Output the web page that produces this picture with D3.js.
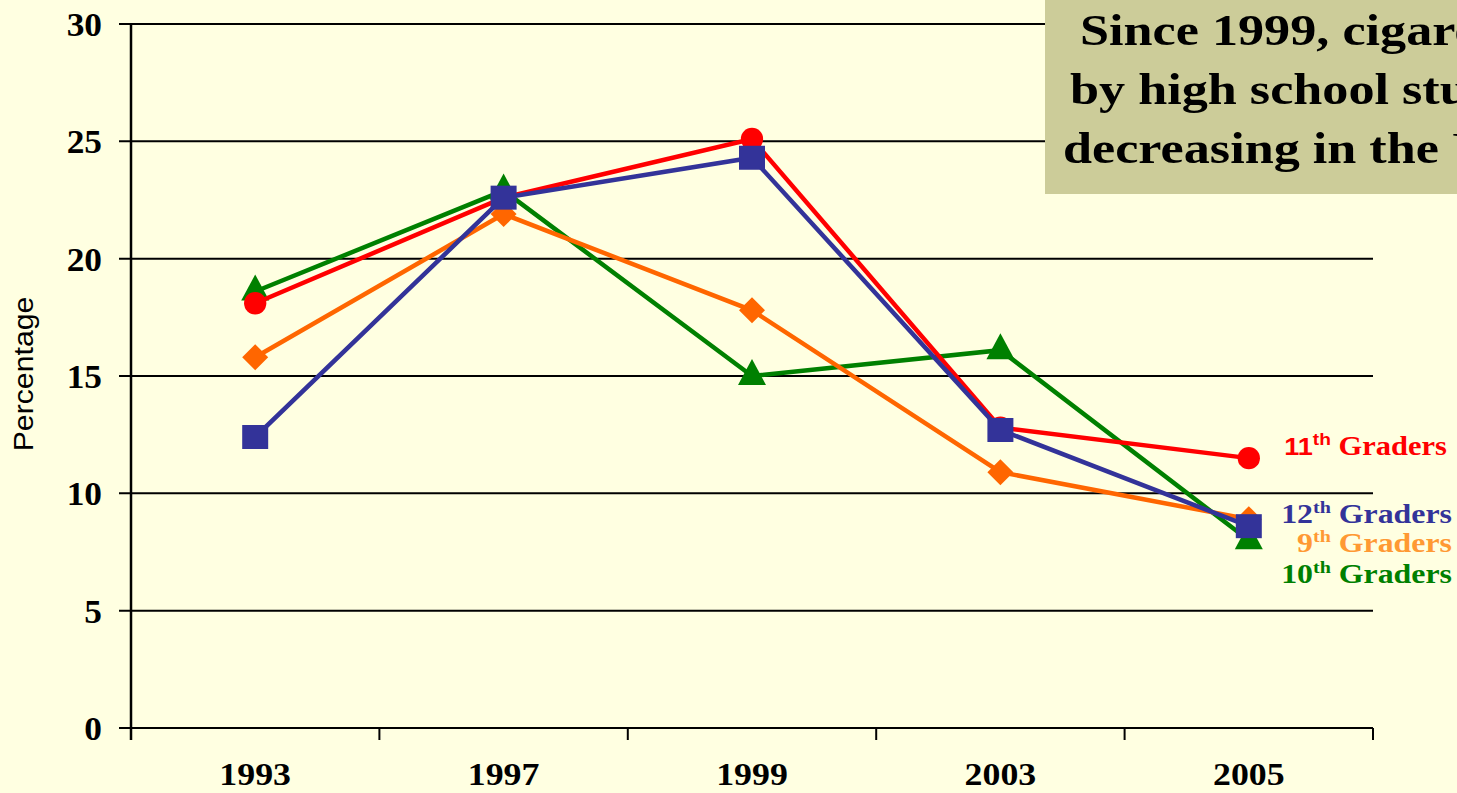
<!DOCTYPE html>
<html><head><meta charset="utf-8">
<script src="https://cdn.jsdelivr.net/npm/d3@7"></script>
<style>body{margin:0;background:#FFFFE1;overflow:hidden}</style>
</head><body>
<svg id="c" width="1457" height="793"></svg>
<script>
const years = ["1993","1997","1999","2003","2005"];
const grade11 = [18.1, 22.6, 25.1, 12.8, 11.5];
const grade12 = [12.4, 22.6, 24.3, 12.7, 8.6];
const grade9  = [15.8, 21.9, 17.8, 10.9, 8.9];
const grade10 = [18.6, 22.9, 15.0, 16.1, 8.0];
const yTicks = [0,5,10,15,20,25,30];
const titleLines = ["Since 1999, cigarette smoking","by high school students has been","decreasing in the United States"];

const series = [
  {name:"10", sup:"th", values:grade10, color:"#008000", label:"#008000", shape:"triangle"},
  {name:"11", sup:"th", values:grade11, color:"#FF0000", label:"#FF0000", shape:"circle"},
  {name:"9",  sup:"th", values:grade9,  color:"#FF6600", label:"#FF9933", shape:"diamond"},
  {name:"12", sup:"th", values:grade12, color:"#333399", label:"#333399", shape:"square"}
];

const SERIF = "'Times New Roman', 'Liberation Serif', Times, serif";
const SANS = "Arial, 'Liberation Sans', sans-serif";
const svg = d3.select("#c");
svg.append("rect").attr("width",1457).attr("height",793).attr("fill","#FFFFE1");
const L=131, R=1373, T=24, B=728;
const x = d3.scaleBand().domain(years).range([L,R]);
const y = d3.scaleLinear().domain([0,30]).range([B,T]);

function stext(g, px, py, sx, anchor){
  return g.append("text").attr("transform",`translate(${px},${py}) scale(${sx},1)`).attr("text-anchor",anchor||"start");
}

// gridlines
svg.append("g").selectAll("line").data(yTicks).join("line")
  .attr("x1",L-12).attr("x2",R).attr("y1",d=>y(d)).attr("y2",d=>y(d))
  .attr("stroke","#000").attr("stroke-width",2);
// y axis line
svg.append("line").attr("x1",L).attr("x2",L).attr("y1",T).attr("y2",B+12).attr("stroke","#000").attr("stroke-width",2.5);
// x ticks
const xt = years.map(d=>x(d)).concat([R]);
svg.append("g").selectAll("line").data(xt).join("line")
  .attr("x1",d=>d).attr("x2",d=>d).attr("y1",B).attr("y2",B+12)
  .attr("stroke","#000").attr("stroke-width",2);
// y labels
const gy = svg.append("g");
yTicks.forEach(d=>{
  stext(gy, 102, y(d)+12, 1.04, "end").attr("font-family",SERIF).attr("font-weight","bold").attr("font-size",34).text(d);
});
// x labels
const gx = svg.append("g");
years.forEach(d=>{
  stext(gx, x(d)+x.bandwidth()/2, 785, 1.12, "middle").attr("font-family",SERIF).attr("font-weight","bold").attr("font-size",32).text(d);
});
// y title
svg.append("text").attr("transform","translate(33,374) rotate(-90) scale(1.12,1)").attr("text-anchor","middle")
  .attr("font-family",SANS).attr("font-size",27).text("Percentage");

const cx = d=>x(d)+x.bandwidth()/2;
const line = d3.line().x((v,i)=>cx(years[i])).y(v=>y(v));
series.forEach(s=>{
  const g = svg.append("g");
  g.append("path").attr("d",line(s.values)).attr("fill","none").attr("stroke",s.color).attr("stroke-width",4.5);
  g.selectAll(".m").data(s.values).join("path")
    .attr("transform",(v,i)=>`translate(${cx(years[i])},${y(v)})`)
    .attr("fill",s.color)
    .attr("d",()=>{
      if(s.shape==="circle") return d3.symbol(d3.symbolCircle, 390)();
      if(s.shape==="square") return "M-13,-12H13V12H-13Z";
      if(s.shape==="diamond") return "M0,-13L13,0L0,13L-13,0Z";
      return "M0,-17L14,9H-14Z";
    });
});

// right labels
const labels = [
  {s:series[1], xx:1447, yy:455, numFont:SANS, sx:1.13},
  {s:series[3], xx:1452, yy:523, numFont:SERIF, sx:1.18},
  {s:series[2], xx:1452, yy:552, numFont:SERIF, sx:1.18},
  {s:series[0], xx:1452, yy:583, numFont:SERIF, sx:1.18}
];
const gl = svg.append("g");
labels.forEach(l=>{
  const t = stext(gl, l.xx, l.yy, l.sx, "end")
    .attr("font-family",SERIF).attr("font-weight","bold")
    .attr("font-size",27).attr("fill",l.s.label);
  t.append("tspan").attr("font-family",l.numFont).attr("font-size", l.numFont===SANS?24:27).text(l.s.name);
  t.append("tspan").attr("font-family",l.numFont).attr("font-size",17).attr("dy",-10).text(l.s.sup);
  t.append("tspan").attr("dy",10).text(" Graders");
});

// title box
svg.append("rect").attr("x",1045).attr("y",0).attr("width",420).attr("height",194).attr("fill","#CCCC99");
const tx = [1080, 1070, 1063], ty = [45, 104, 163];
const gt = svg.append("g");
titleLines.forEach((t,i)=>{
  stext(gt, tx[i], ty[i], 1.16, "start")
    .attr("font-family",SERIF).attr("font-weight","bold")
    .attr("font-size",45).attr("fill","#000").text(t);
});
</script>
</body></html>
